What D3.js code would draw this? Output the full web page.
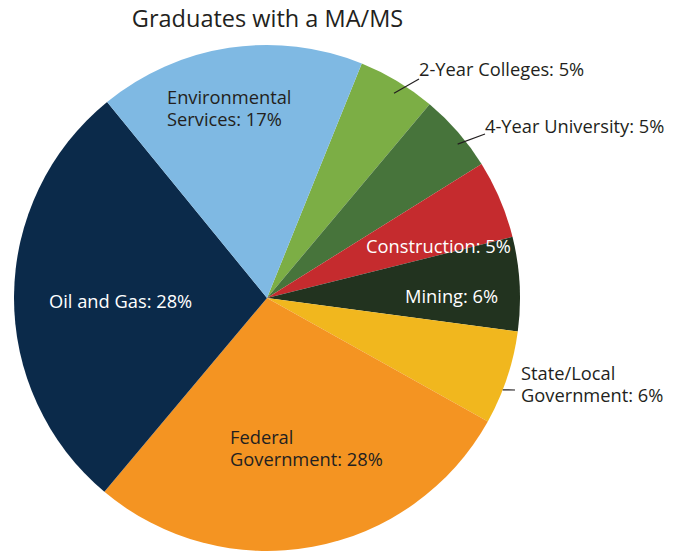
<!DOCTYPE html>
<html>
<head>
<meta charset="utf-8">
<script src="https://cdn.jsdelivr.net/npm/d3@7"></script>
<style>
  html, body { margin: 0; padding: 0; background: #fff; }
  svg { display: block; }
  text { font-family: "Open Sans", "Noto Sans", sans-serif; }
</style>
</head>
<body>
<svg id="chart" width="688" height="552"></svg>
<script>
// Sector shares of MA/MS graduates, in drawing order (clockwise)
const categories = ["2-Year Colleges", "4-Year University", "Construction", "Mining",
                    "State/Local Government", "Federal Government", "Oil and Gas",
                    "Environmental Services"];
const shares = [5, 5, 5, 6, 6, 28, 28, 17];
const colors = ["#7cae45", "#47743b", "#c52b2e", "#22331f", "#f1b71e", "#f49422", "#0b2a4a", "#7fb9e3"];

// Label layout: lines of text, anchor position, colour, optional leader start (angle deg, radius)
const labelLayout = [
  { lines: ["2-Year Colleges: 5%"], x: 419, y: 76, fill: "#231f20", leader: [31.8, 241], end: [419, 79] },
  { lines: ["4-Year University: 5%"], x: 485, y: 133, fill: "#231f20", leader: [51.1, 245], end: [485, 134] },
  { lines: ["Construction: 5%"], x: 366, y: 253, fill: "#ffffff" },
  { lines: ["Mining: 6%"], x: 405, y: 303, fill: "#ffffff" },
  { lines: ["State/Local", "Government: 6%"], x: 521, y: 380, fill: "#231f20", leader: [111.3, 253], end: [515, 390] },
  { lines: ["Federal", "Government: 28%"], x: 230, y: 444, fill: "#231f20" },
  { lines: ["Oil and Gas: 28%"], x: 49, y: 308, fill: "#ffffff" },
  { lines: ["Environmental", "Services: 17%"], x: 167, y: 104, fill: "#231f20" }
];

const svg = d3.select("#chart");
const cx = 267, cy = 298, radius = 253;
const deg = Math.PI / 180;

svg.append("text")
  .attr("x", 267.5).attr("y", 27)
  .attr("text-anchor", "middle")
  .attr("font-size", 23.5)
  .attr("fill", "#231f20")
  .text("Graduates with a MA/MS");

const pie = d3.pie().sort(null).value(d => d).startAngle(22 * deg).endAngle(382 * deg);
const arc = d3.arc().innerRadius(0).outerRadius(radius);

const g = svg.append("g").attr("transform", `translate(${cx},${cy})`);
g.selectAll("path")
  .data(pie(shares))
  .join("path")
  .attr("d", arc)
  .attr("fill", (d, i) => colors[i]);

// Leader lines
labelLayout.forEach(l => {
  if (!l.leader) return;
  const a = l.leader[0] * deg, r = l.leader[1];
  svg.append("line")
    .attr("x1", cx + r * Math.sin(a)).attr("y1", cy - r * Math.cos(a))
    .attr("x2", l.end[0]).attr("y2", l.end[1])
    .attr("stroke", "#231f20").attr("stroke-width", 1.2);
});

// Labels
labelLayout.forEach(l => {
  const t = svg.append("text")
    .attr("x", l.x).attr("y", l.y)
    .attr("font-size", 18.3)
    .attr("fill", l.fill);
  l.lines.forEach((line, i) => {
    t.append("tspan").attr("x", l.x).attr("dy", i === 0 ? 0 : 22).text(line);
  });
});
</script>
</body>
</html>
